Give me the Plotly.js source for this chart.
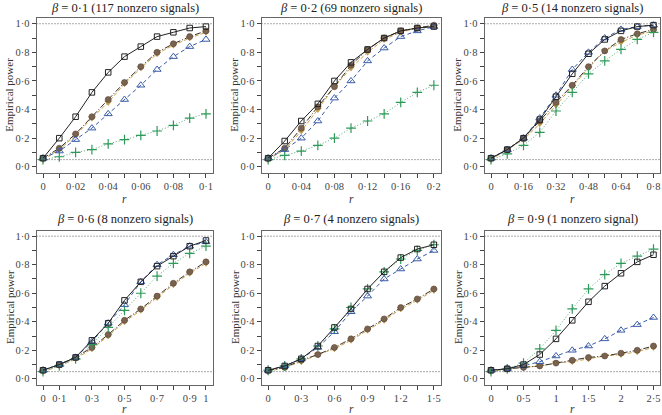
<!DOCTYPE html>
<html>
<head>
<meta charset="utf-8">
<script src="https://cdn.plot.ly/plotly-3.0.1.min.js"></script>
<style>
html,body{margin:0;padding:0;background:#fff;}
#chart{width:662px;height:415px;}
</style>
</head>
<body>
<div id="chart"></div>
<script>
// Panel info
const betaLabels = ["0·1", "0·2", "0·5", "0·6", "0·7", "0·9"];
const signalLabels = ["117 nonzero signals", "69 nonzero signals", "14 nonzero signals", "8 nonzero signals", "4 nonzero signals", "1 nonzero signal"];
const rMax = [0.1, 0.2, 0.8, 1.0, 1.5, 2.5];
const xTickText = [
  ["0", "", "0·02", "", "0·04", "", "0·06", "", "0·08", "", "0·1"],
  ["0", "", "0·04", "", "0·08", "", "0·12", "", "0·16", "", "0·2"],
  ["0", "", "0·16", "", "0·32", "", "0·48", "", "0·64", "", "0·8"],
  ["0", "0·1", "", "0·3", "", "0·5", "", "0·7", "", "0·9", "1"],
  ["0", "", "0·3", "", "0·6", "", "0·9", "", "1·2", "", "1·5"],
  ["0", "", "0·5", "", "1", "", "1·5", "", "2", "", "2·5"]
];
const yTickVals = [0, 0.1, 0.2, 0.3, 0.4, 0.5, 0.6, 0.7, 0.8, 0.9, 1.0];
const yTickText = ["0·0", "", "0·2", "", "0·4", "", "0·6", "", "0·8", "", "1·0"];

// Series values (11 r-steps each, r = k/10 * rMax)
const seriesA = [ // black squares, solid
  [0.06, 0.20, 0.35, 0.52, 0.66, 0.77, 0.84, 0.91, 0.94, 0.97, 0.98],
  [0.06, 0.18, 0.32, 0.44, 0.60, 0.73, 0.82, 0.90, 0.95, 0.97, 0.98],
  [0.06, 0.12, 0.20, 0.33, 0.49, 0.65, 0.79, 0.89, 0.95, 0.98, 0.99],
  [0.06, 0.10, 0.15, 0.27, 0.39, 0.55, 0.68, 0.79, 0.86, 0.93, 0.97],
  [0.06, 0.09, 0.14, 0.23, 0.36, 0.49, 0.63, 0.75, 0.85, 0.91, 0.94],
  [0.06, 0.07, 0.10, 0.17, 0.28, 0.41, 0.54, 0.65, 0.74, 0.82, 0.87]
];
const seriesB = [ // blue triangles, dashed
  [0.06, 0.11, 0.19, 0.27, 0.37, 0.47, 0.57, 0.68, 0.77, 0.84, 0.89],
  [0.06, 0.12, 0.20, 0.32, 0.48, 0.60, 0.74, 0.83, 0.91, 0.95, 0.98],
  [0.06, 0.12, 0.20, 0.34, 0.50, 0.68, 0.80, 0.90, 0.96, 0.98, 0.99],
  [0.06, 0.10, 0.15, 0.26, 0.39, 0.52, 0.68, 0.80, 0.87, 0.93, 0.96],
  [0.06, 0.09, 0.14, 0.22, 0.33, 0.47, 0.58, 0.70, 0.77, 0.84, 0.90],
  [0.06, 0.07, 0.09, 0.12, 0.16, 0.20, 0.23, 0.28, 0.34, 0.38, 0.43]
];
const seriesC = [ // green crosses, dotted
  [0.05, 0.07, 0.10, 0.12, 0.16, 0.19, 0.22, 0.25, 0.29, 0.34, 0.37],
  [0.05, 0.08, 0.11, 0.15, 0.20, 0.27, 0.32, 0.37, 0.45, 0.52, 0.57],
  [0.05, 0.09, 0.15, 0.24, 0.39, 0.52, 0.65, 0.74, 0.82, 0.89, 0.94],
  [0.05, 0.09, 0.14, 0.24, 0.36, 0.48, 0.60, 0.72, 0.81, 0.88, 0.93],
  [0.06, 0.09, 0.14, 0.23, 0.35, 0.50, 0.63, 0.75, 0.84, 0.90, 0.94],
  [0.05, 0.07, 0.11, 0.21, 0.34, 0.49, 0.63, 0.73, 0.81, 0.86, 0.91]
];
const seriesD = [ // brown filled circles, dash-dot
  [0.06, 0.13, 0.23, 0.35, 0.47, 0.59, 0.70, 0.80, 0.86, 0.91, 0.95],
  [0.06, 0.13, 0.27, 0.42, 0.56, 0.71, 0.82, 0.90, 0.95, 0.97, 0.99],
  [0.06, 0.12, 0.20, 0.32, 0.45, 0.57, 0.70, 0.81, 0.89, 0.93, 0.96],
  [0.06, 0.10, 0.15, 0.22, 0.31, 0.41, 0.49, 0.58, 0.67, 0.75, 0.82],
  [0.06, 0.08, 0.13, 0.17, 0.22, 0.28, 0.35, 0.42, 0.50, 0.56, 0.63],
  [0.06, 0.07, 0.08, 0.09, 0.11, 0.13, 0.15, 0.16, 0.18, 0.20, 0.23]
];
const seriesE = [ // tan down-triangles, dashed
  [0.05, 0.12, 0.22, 0.34, 0.45, 0.58, 0.69, 0.79, 0.85, 0.90, 0.94],
  [0.05, 0.12, 0.25, 0.40, 0.56, 0.69, 0.80, 0.89, 0.94, 0.97, 0.98],
  [0.05, 0.12, 0.19, 0.30, 0.43, 0.56, 0.69, 0.81, 0.87, 0.92, 0.95],
  [0.05, 0.09, 0.14, 0.21, 0.30, 0.40, 0.48, 0.57, 0.66, 0.74, 0.81],
  [0.05, 0.08, 0.12, 0.17, 0.21, 0.27, 0.34, 0.41, 0.49, 0.55, 0.62],
  [0.05, 0.07, 0.08, 0.09, 0.11, 0.12, 0.14, 0.16, 0.17, 0.19, 0.22]
];

// Layout geometry (pixels)
const W = 662, H = 415;
const colPx = [[36.5, 212.5], [261.5, 440.5], [484.5, 660]];
const rowPx = [[18, 172.5], [230.5, 384.5]];
const FONT = "Liberation Serif";

const traces = [];
const layout = {
  width: W, height: H,
  margin: {l: 0, r: 0, t: 0, b: 0},
  paper_bgcolor: "#fff", plot_bgcolor: "#fff",
  showlegend: false,
  font: {family: FONT, size: 11, color: "#333"},
  annotations: [], shapes: []
};

const styles = [
  {data: seriesE, line: {color: "#c9a24e", width: 1, dash: "4px,2px"}, marker: {symbol: "triangle-down", size: 6, color: "#c9a24e", line: {color: "#a8822f", width: 0.5}}},
  {data: seriesD, line: {color: "#3a3028", width: 1, dash: "6px,2px,1px,2px"}, marker: {symbol: "circle", size: 6, color: "#7a6250", line: {color: "#5a4636", width: 0.6}}},
  {data: seriesC, line: {color: "#5aaa7a", width: 1, dash: "1px,2px"}, marker: {symbol: "cross-thin-open", size: 7, color: "#2e9a5a", line: {color: "#2e9a5a", width: 1.2}}},
  {data: seriesB, line: {color: "#3a5ca8", width: 1, dash: "4px,3px"}, marker: {symbol: "triangle-up-open", size: 7, color: "#3a5ca8", line: {color: "#3a5ca8", width: 1}}},
  {data: seriesA, line: {color: "#222", width: 1}, marker: {symbol: "square-open", size: 5.5, color: "#222", line: {color: "#222", width: 1}}}
];

for (let p = 0; p < 6; p++) {
  const col = p % 3, row = Math.floor(p / 3);
  const sfx = p === 0 ? "" : String(p + 1);
  const xs = [];
  for (let k = 0; k <= 10; k++) xs.push(rMax[p] * k / 10);
  styles.forEach(s => {
    traces.push({
      x: xs, y: s.data[p], xaxis: "x" + sfx, yaxis: "y" + sfx,
      mode: "lines+markers", type: "scatter",
      line: s.line, marker: s.marker, hoverinfo: "skip", cliponaxis: false
    });
  });
  const ext = rMax[p] * 0.04;
  const xd = [colPx[col][0] / W, colPx[col][1] / W];
  const yd = [1 - rowPx[row][1] / H, 1 - rowPx[row][0] / H];
  layout["xaxis" + sfx] = {
    domain: xd, anchor: "y" + sfx, range: [-ext, rMax[p] + ext],
    tickvals: xs, ticktext: xTickText[p], ticks: "outside", ticklen: 4, tickwidth: 1,
    tickcolor: "#444", showline: true, linecolor: "#666", linewidth: 1, mirror: true,
    showgrid: false, zeroline: false, ticklabeloverflow: "allow",
    tickfont: {family: FONT, size: 10.5, color: "#444"}
  };
  layout["yaxis" + sfx] = {
    domain: yd, anchor: "x" + sfx, range: [-0.04, 1.04],
    tickvals: yTickVals, ticktext: yTickText, ticks: "outside", ticklen: 4, tickwidth: 1,
    tickcolor: "#444", showline: true, linecolor: "#666", linewidth: 1, mirror: true,
    showgrid: false, zeroline: false, ticklabeloverflow: "allow",
    tickfont: {family: FONT, size: 10.5, color: "#444"}
  };
  [0.05, 1.0].forEach(yv => {
    layout.shapes.push({type: "line", xref: "x" + sfx + " domain", yref: "y" + sfx,
      x0: 0, x1: 1, y0: yv, y1: yv, line: {color: "#555", width: 1, dash: "1px,2px"}});
  });
  const cx = (xd[0] + xd[1]) / 2;
  layout.annotations.push({
    xref: "paper", yref: "paper", x: cx, y: 1 - (row === 0 ? 8.5 : 219) / H,
    text: "<i>β</i> = " + betaLabels[p] + " (" + signalLabels[p] + ")",
    showarrow: false, xanchor: "center", yanchor: "middle",
    font: {family: FONT, size: 12.5, color: "#222"}
  });
  layout.annotations.push({
    xref: "paper", yref: "paper", x: cx, y: 1 - (row === 0 ? 199 : 409) / H,
    text: "<i>r</i>", showarrow: false, xanchor: "center", yanchor: "middle",
    font: {family: FONT, size: 11.5, color: "#333"}
  });
  layout.annotations.push({
    xref: "paper", yref: "paper", x: (colPx[col][0] - 27) / W, y: (yd[0] + yd[1]) / 2,
    text: "Empirical power", textangle: -90, showarrow: false,
    xanchor: "center", yanchor: "middle",
    font: {family: FONT, size: 11, color: "#333"}
  });
}

Plotly.newPlot("chart", traces, layout, {displayModeBar: false, staticPlot: true});
</script>
</body>
</html>
